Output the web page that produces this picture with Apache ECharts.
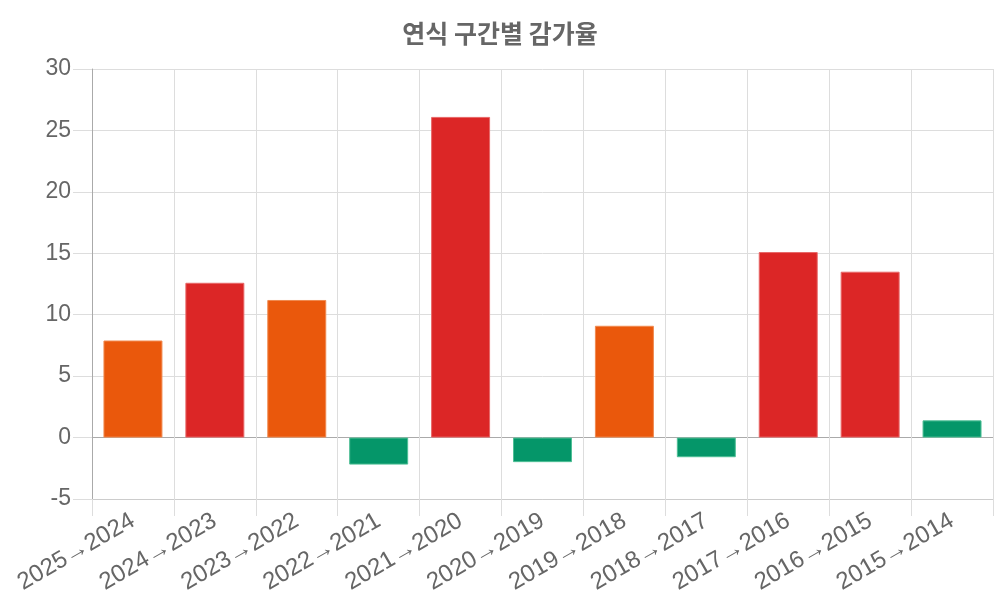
<!DOCTYPE html>
<html>
<head>
<meta charset="utf-8">
<style>
html,body{margin:0;padding:0;background:#fff;}
#chart{width:1000px;height:600px;}
</style>
<script src="https://cdn.jsdelivr.net/npm/echarts@6/dist/echarts.min.js"></script>
</head>
<body>
<div id="chart"></div>
<script>
var titleText = '연식 구간별 감가율';
var categories = ['2025→2024','2024→2023','2023→2022','2022→2021','2021→2020','2020→2019','2019→2018','2018→2017','2017→2016','2016→2015','2015→2014'];
var values = [7.9, 12.6, 11.2, -2.2, 26.1, -2.0, 9.1, -1.6, 15.1, 13.5, 1.4];
var yTicks = [-5, 0, 5, 10, 15, 20, 25, 30];

function barColor(v){
  if (v < 3) return '#059669';
  if (v < 12) return '#ea580c';
  return '#dc2626';
}
function barBorder(v){
  if (v < 3) return '#4fbf96';
  if (v < 12) return '#f08a50';
  return '#e86868';
}

var chart = echarts.init(document.getElementById('chart'));
var splitColors = yTicks.map(function(t, i){ return i === 0 ? '#cccccc' : (t === 0 ? '#aaaaaa' : '#dddddd'); });
chart.setOption({
  animation: false,
  title: {
    text: titleText,
    left: 'center',
    top: 16,
    textStyle: {fontFamily: 'Noto Sans CJK KR', fontSize: 25, fontWeight: 'bold', color: '#666'}
  },
  grid: {left: 92, right: 7, top: 69, bottom: 101, containLabel: false},
  xAxis: {
    type: 'category',
    data: categories,
    boundaryGap: true,
    axisLine: {show: true, onZero: false, lineStyle: {color: '#cccccc', width: 1}},
    axisTick: {show: true, length: 17, alignWithLabel: false, lineStyle: {color: '#dddddd'}},
    splitLine: {show: true, lineStyle: {color: '#dddddd'}},
    axisLabel: {rotate: 30, margin: 20, fontFamily: 'Liberation Sans', fontSize: 24, color: '#666', interval: 0}
  },
  yAxis: {
    type: 'value',
    min: yTicks[0],
    max: yTicks[yTicks.length - 1],
    interval: 5,
    axisLine: {show: true, lineStyle: {color: '#aaaaaa'}},
    axisTick: {show: true, length: 19, lineStyle: {color: '#dddddd'}},
    splitLine: {show: true, lineStyle: {color: splitColors}},
    axisLabel: {margin: 21, fontFamily: 'Liberation Sans', fontSize: 23, color: '#666'}
  },
  series: [{
    type: 'bar',
    barWidth: '72%',
    data: values.map(function(v){
      return {value: v, itemStyle: {color: barColor(v), borderColor: barBorder(v), borderWidth: 1}};
    })
  }]
});
</script>
</body>
</html>
